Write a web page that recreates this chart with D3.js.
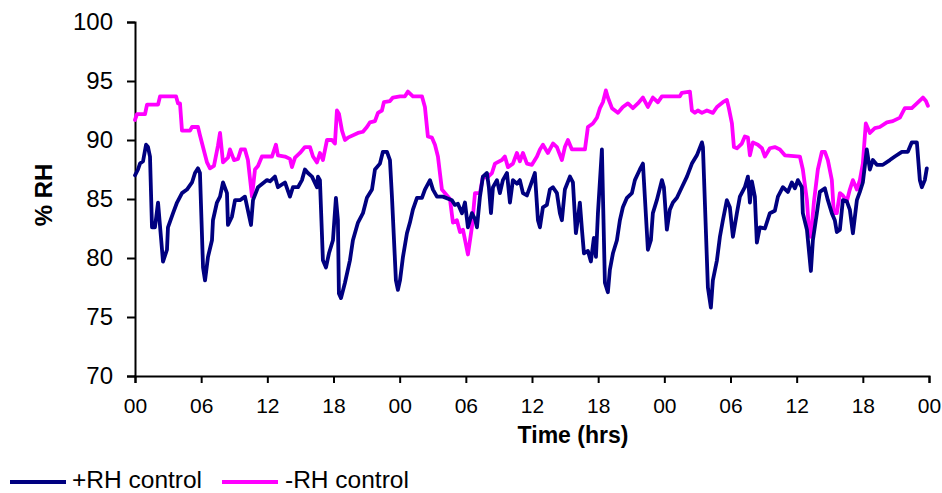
<!DOCTYPE html>
<html>
<head>
<meta charset="utf-8">
<script src="https://cdn.jsdelivr.net/npm/d3@7"></script>
<style>
  html, body { margin: 0; padding: 0; background: #fff; }
  svg { display: block; font-family: "Liberation Sans", Arial, sans-serif; }
</style>
</head>
<body>
<svg id="chart" width="942" height="493"></svg>
<script>
// Elapsed time (hours from the first midnight) and relative humidity readings
const plusTime = [0.00,0.27,0.45,0.73,1.00,1.18,1.36,1.54,1.81,2.09,2.54,2.90,2.99,3.45,3.81,4.26,4.71,5.17,5.44,5.71,5.89,6.17,6.35,6.62,6.98,7.07,7.43,7.71,7.98,8.34,8.43,8.79,9.07,9.52,9.97,10.52,10.70,11.15,11.97,12.24,12.69,12.96,13.60,14.05,14.32,14.78,15.14,15.41,15.68,16.05,16.50,16.59,16.77,17.04,17.32,17.59,17.95,18.22,18.40,18.49,18.68,19.04,19.49,19.76,20.22,20.67,21.03,21.49,21.76,22.21,22.48,22.85,23.12,23.30,23.66,23.84,24.03,24.30,24.66,24.93,25.20,25.57,26.02,26.29,26.75,27.02,27.38,27.92,28.74,29.01,29.28,29.65,29.92,30.19,30.55,30.83,31.01,31.28,31.55,31.91,32.09,32.28,32.46,32.82,33.09,33.36,33.73,34.00,34.27,34.63,34.90,35.18,35.54,35.81,36.26,36.54,36.72,36.99,37.35,37.62,37.90,38.26,38.53,38.71,38.98,39.44,39.71,39.98,40.16,40.34,40.53,40.71,41.07,41.34,41.61,41.80,41.98,42.34,42.61,42.88,43.06,43.34,43.70,43.97,44.24,44.61,45.06,45.33,45.78,46.06,46.51,46.78,46.96,47.32,47.78,47.96,48.23,48.50,48.78,49.14,49.59,50.05,50.50,50.95,51.41,51.50,51.95,52.22,52.40,52.77,53.04,53.31,53.67,53.94,54.22,54.58,54.85,55.30,55.58,55.76,55.94,56.21,56.39,56.66,57.12,57.57,58.02,58.30,58.75,59.20,59.56,59.84,60.11,60.47,60.56,60.93,61.29,61.47,61.83,62.10,62.56,62.83,63.19,63.46,63.64,63.92,64.19,64.55,64.82,65.10,65.46,65.73,66.00,66.36,66.64,66.91,67.27,67.82,68.45,68.90,69.54,70.08,70.44,70.90,71.17,71.35,71.62,71.80];
const plusRH = [87.0,87.5,88.0,88.2,89.6,89.4,88.6,82.6,82.6,84.7,79.7,80.7,82.6,83.8,84.7,85.5,85.8,86.4,87.2,87.6,87.2,79.2,78.1,80.1,81.5,83.2,84.7,85.2,86.4,85.5,82.8,83.5,84.9,84.9,85.2,82.8,84.9,86.0,86.6,86.5,86.9,86.0,86.4,85.2,86.0,86.0,86.6,87.5,87.2,86.9,86.0,86.9,86.6,79.8,79.2,80.4,81.5,85.1,83.2,77.0,76.6,77.9,79.8,81.5,83.0,83.8,85.1,85.8,87.5,88.0,89.0,89.0,88.3,85.2,78.1,77.3,78.1,80.1,82.1,83.0,84.1,85.1,85.1,85.8,86.6,85.8,85.2,85.2,84.9,84.5,84.6,83.8,84.7,82.6,83.8,83.3,82.6,85.2,86.9,87.2,86.0,83.8,86.0,86.6,85.5,86.6,87.2,84.7,86.6,86.3,86.6,85.5,85.3,86.0,87.2,83.2,82.6,84.3,84.5,85.8,86.0,85.5,83.8,83.2,85.8,86.9,86.4,82.1,83.3,84.7,82.4,80.4,80.6,79.7,81.7,80.1,83.8,89.2,77.9,77.1,79.0,80.4,81.5,83.2,84.3,85.1,85.5,86.6,87.5,88.0,80.7,81.5,83.8,84.9,86.6,86.0,82.4,84.1,84.7,85.1,86.0,86.9,88.0,88.7,89.8,89.4,77.5,75.8,78.1,79.8,81.8,83.2,84.9,84.3,81.8,83.8,85.2,86.0,86.9,84.7,86.5,85.2,81.3,82.6,82.5,83.8,84.0,85.2,86.0,85.6,86.4,85.9,86.6,86.0,83.8,82.4,78.9,81.5,83.8,85.6,85.9,84.9,83.8,83.2,82.2,82.4,84.9,84.8,84.1,82.1,84.9,85.6,86.4,89.2,87.5,88.3,87.9,87.9,88.3,88.6,89.0,89.0,89.8,89.8,86.6,86.0,86.6,87.6];

const minusTime = [0.00,0.18,0.91,1.09,2.09,2.27,3.72,3.90,4.08,4.26,4.99,5.17,5.71,5.89,6.53,6.80,7.16,7.52,7.71,7.98,8.43,8.61,8.98,9.34,9.61,9.97,10.24,10.61,10.88,11.15,11.51,12.42,12.78,12.96,13.60,14.05,14.23,14.51,14.96,15.41,15.87,16.14,16.50,16.77,17.04,17.41,17.86,18.13,18.31,18.50,18.77,19.04,19.31,20.22,20.67,21.03,21.31,21.76,22.03,22.39,22.57,23.12,23.39,24.03,24.48,24.75,25.20,26.02,26.29,26.56,26.93,27.20,27.47,27.83,28.29,28.56,28.83,29.19,29.47,29.74,30.19,30.55,30.83,31.28,31.55,31.91,32.37,32.64,33.27,33.54,33.82,34.27,34.63,34.90,35.18,35.54,35.99,36.45,36.72,36.99,37.44,37.90,38.26,38.71,38.98,39.26,39.62,40.80,41.07,41.52,41.89,42.16,42.43,42.70,42.88,43.25,43.79,44.24,44.70,45.15,45.60,46.06,46.51,46.96,47.42,47.78,49.41,49.59,50.32,50.50,50.77,51.04,51.41,51.86,52.40,52.77,53.31,53.67,53.85,54.13,54.31,54.58,55.03,55.30,55.58,55.76,56.03,56.48,56.85,57.12,57.57,58.02,58.48,58.93,60.29,60.56,60.93,61.11,61.29,61.56,61.92,62.29,62.56,62.83,63.19,63.37,63.64,63.92,64.19,64.55,64.82,65.10,65.46,65.73,66.00,66.27,66.64,67.09,67.54,68.18,68.72,69.36,69.81,70.44,70.90,71.45,71.72,71.90];
const minusRH = [91.7,92.2,92.2,93.0,93.0,93.7,93.7,93.1,93.1,90.8,90.8,91.1,91.1,90.4,88.1,87.6,87.8,89.5,90.6,88.1,88.5,89.2,88.3,88.4,89.2,89.2,88.3,85.2,87.5,87.8,88.6,88.6,89.6,88.7,88.6,88.4,87.7,88.5,88.9,89.4,89.4,88.6,88.1,88.9,88.3,90.0,90.0,89.7,92.5,92.2,90.8,90.0,90.2,90.6,90.7,91.1,91.5,91.6,92.3,92.5,93.2,93.3,93.6,93.7,93.7,94.1,93.7,93.7,92.8,90.3,90.2,89.6,88.6,85.8,85.3,85.0,83.0,83.2,82.2,82.4,80.3,82.6,85.5,85.5,86.9,86.8,87.2,88.0,88.3,88.6,87.7,88.0,88.9,88.2,88.9,88.0,87.9,88.6,89.2,89.6,88.9,89.7,89.4,88.3,89.4,90.0,89.2,89.2,91.1,91.4,91.9,92.7,93.2,94.2,93.6,92.7,92.3,92.8,93.1,92.7,93.1,93.6,92.8,93.6,93.2,93.7,93.7,94.0,94.1,92.5,92.3,92.5,92.3,92.5,92.3,92.8,93.2,93.4,92.7,91.4,89.4,89.3,89.7,90.3,90.2,88.7,89.8,89.6,89.3,88.6,89.3,89.4,89.2,88.7,88.6,87.5,84.9,82.4,81.8,84.7,87.5,89.0,89.0,88.3,86.6,83.8,83.8,85.5,85.3,84.8,85.8,86.6,85.8,86.6,88.0,91.4,90.6,91.0,91.1,91.5,91.6,91.9,92.7,92.7,93.1,93.6,93.3,92.9];

// Axis ticks
const xTickHours = [0, 6, 12, 18, 24, 30, 36, 42, 48, 54, 60, 66, 72];
const xTickLabels = ["00", "06", "12", "18", "00", "06", "12", "18", "00", "06", "12", "18", "00"];
const yTicks = [70, 75, 80, 85, 90, 95, 100];

const seriesNames = ["+RH control", "-RH control"];
const seriesColors = ["#000080", "#FF00FF"];

const svg = d3.select("#chart");
const plot = { left: 135, right: 929, top: 22, bottom: 376 };

const x = d3.scaleLinear().domain([0, 72]).range([plot.left, plot.right]);
const y = d3.scaleLinear().domain([70, 100]).range([plot.bottom, plot.top]);

// Y axis
const yAxis = svg.append("g")
  .attr("transform", `translate(${plot.left},0)`)
  .call(d3.axisLeft(y).tickValues(yTicks).tickSize(8).tickPadding(14).tickFormat(d3.format("d")));
yAxis.select(".domain").attr("stroke", "#000").attr("stroke-width", 2);
yAxis.selectAll(".tick line").attr("stroke", "#000").attr("stroke-width", 2);
yAxis.selectAll(".tick text")
  .attr("font-size", 24).attr("fill", "#000")
  .attr("font-family", "'Liberation Sans', Arial, sans-serif");

// X axis
const xAxis = svg.append("g")
  .attr("transform", `translate(0,${plot.bottom})`)
  .call(d3.axisBottom(x).tickValues(xTickHours).tickSize(7).tickPadding(15)
    .tickFormat((d, i) => xTickLabels[i]));
xAxis.select(".domain").attr("stroke", "#000").attr("stroke-width", 2);
xAxis.selectAll(".tick line").attr("stroke", "#000").attr("stroke-width", 2);
xAxis.selectAll(".tick text")
  .attr("font-size", 21).attr("fill", "#000")
  .attr("font-family", "'Liberation Sans', Arial, sans-serif");

// Axis titles
svg.append("text")
  .attr("x", 573).attr("y", 443)
  .attr("text-anchor", "middle")
  .attr("font-size", 23).attr("font-weight", "bold")
  .text("Time (hrs)");

svg.append("text")
  .attr("transform", "translate(52,195) rotate(-90)")
  .attr("text-anchor", "middle")
  .attr("font-size", 24).attr("font-weight", "bold")
  .text("% RH");

// Series lines
const line = d3.line()
  .x(d => x(d[0]))
  .y(d => y(d[1]));

const series = [
  d3.zip(plusTime, plusRH),
  d3.zip(minusTime, minusRH)
];

// Draw -RH first so +RH sits on top where they cross
[1, 0].forEach(i => {
  svg.append("path")
    .datum(series[i])
    .attr("fill", "none")
    .attr("stroke", seriesColors[i])
    .attr("stroke-width", 3.8)
    .attr("stroke-linejoin", "round")
    .attr("stroke-linecap", "round")
    .attr("d", line);
});

// Legend
const legendItems = [
  { x1: 10, x2: 66, tx: 72 },
  { x1: 222, x2: 278, tx: 285 }
];
legendItems.forEach((p, i) => {
  svg.append("line")
    .attr("x1", p.x1).attr("x2", p.x2)
    .attr("y1", 482).attr("y2", 482)
    .attr("stroke", seriesColors[i]).attr("stroke-width", 4);
  svg.append("text")
    .attr("x", p.tx).attr("y", 488)
    .attr("font-size", 24.5).attr("fill", "#000")
    .text(seriesNames[i]);
});
</script>
</body>
</html>
